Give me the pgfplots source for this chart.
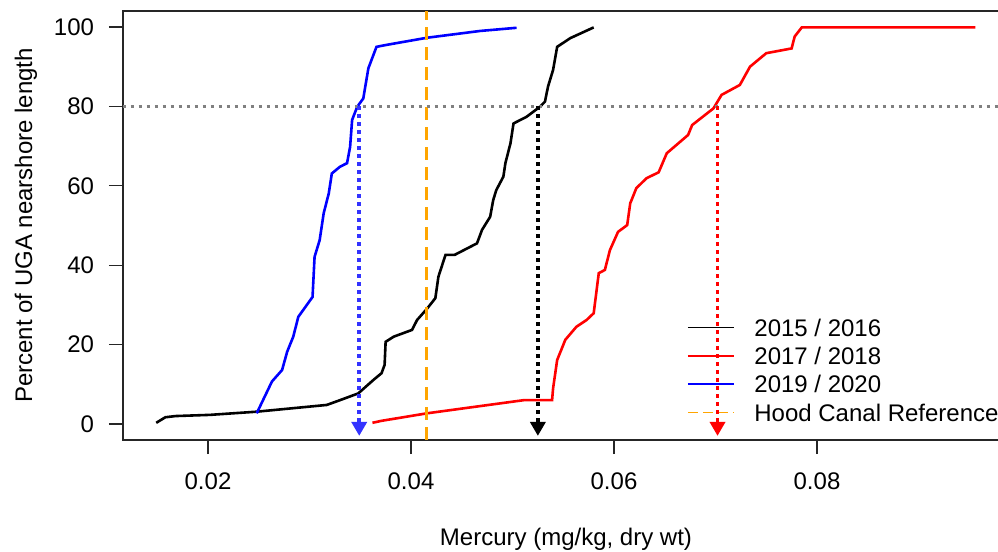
\documentclass[border=0pt]{standalone}
\usepackage{fontspec}
\setmainfont{Liberation Sans}
\usepackage{pgfplots}
\pgfplotsset{compat=1.18}
\usetikzlibrary{arrows.meta}
\definecolor{hcorange}{RGB}{255,165,0}
\definecolor{arrowblue}{RGB}{51,51,255}
\definecolor{dotgray}{RGB}{128,128,128}
\begin{document}
\begin{tikzpicture}
\useasboundingbox (0,0) rectangle (499bp,276bp);
\begin{axis}[
  at={(61.5bp,56bp)}, anchor=south west,
  scale only axis, width=443bp, height=214.5bp,
  xmin=0.011626, xmax=0.098916, ymin=-4.03, ymax=104.03,
  scaled x ticks=false, scaled y ticks=false,
  axis line style={line width=0.6bp, black!85},
  tick style={line width=0.6bp, black!85},
  tick align=outside, major tick length=7bp,
  xtick pos=bottom, ytick pos=left,
  xtick={0.02,0.04,0.06,0.08}, xticklabels={0.02,0.04,0.06,0.08},
  ytick={0,20,40,60,80,100}, yticklabels={0,20,40,60,80,100},
  tick label style={font=\fontsize{12bp}{14bp}\selectfont},
  label style={font=\fontsize{12bp}{14bp}\selectfont},
  xticklabel shift=6bp, yticklabel shift=4bp,
  xlabel={Mercury (mg/kg, dry wt)},
  xlabel style={at={(axis description cs:0.5,-0.2470)}, anchor=base},
  ylabel={Percent of UGA nearshore length},
  ylabel style={at={(axis description cs:-0.1027,0.5)}, anchor=base},
]
\addplot[black, line width=1.3bp] coordinates {
(0.0149,0.3) (0.0158,1.7) (0.0168,2.0) (0.0202,2.3) (0.0248,3.1) (0.0317,4.8)
(0.0330,6.0) (0.0348,7.7) (0.0363,11.1) (0.0371,12.8) (0.0374,14.9) (0.0375,20.7)
(0.0383,22.0) (0.0401,23.7) (0.0406,26.2) (0.0416,29.1) (0.0424,31.7) (0.0427,37.1)
(0.0434,42.6) (0.0443,42.6) (0.0465,45.5) (0.0470,48.9) (0.0478,52.2) (0.0481,56.4)
(0.0484,58.9) (0.0491,62.3) (0.0493,65.7) (0.0498,70.7) (0.0501,75.7) (0.0514,77.4)
(0.0527,79.9) (0.0532,81.2) (0.0535,85.0) (0.0540,89.2) (0.0544,95.0) (0.0557,97.2)
(0.0580,99.9)};
\addplot[red, line width=1.3bp] coordinates {
(0.0362,0.3) (0.0371,0.8) (0.0416,2.7) (0.0511,6.0) (0.0539,6.0) (0.0540,9.0)
(0.0544,16.1) (0.0552,21.2) (0.0563,24.5) (0.0573,26.2) (0.0580,27.9) (0.0585,38.0)
(0.0591,38.8) (0.0596,43.8) (0.0604,48.4) (0.0613,50.1) (0.0616,55.6) (0.0622,59.4)
(0.0632,61.9) (0.0644,63.4) (0.0652,68.2) (0.0673,72.8) (0.0677,75.3) (0.0698,79.5)
(0.0706,82.9) (0.0724,85.4) (0.0734,90.0) (0.0750,93.4) (0.0775,94.6) (0.0778,97.6)
(0.0785,99.9) (0.0956,99.9)};
\addplot[blue, line width=1.3bp] coordinates {
(0.0248,2.7) (0.0263,10.7) (0.0273,13.6) (0.0278,18.2) (0.0284,22.0) (0.0289,27.0)
(0.0296,29.5) (0.0303,32.0) (0.0305,42.1) (0.0310,46.3) (0.0314,53.1) (0.0319,58.1)
(0.0322,63.1) (0.0330,64.8) (0.0337,65.7) (0.0340,69.8) (0.0342,76.6) (0.0347,79.9)
(0.0353,82.0) (0.0358,89.6) (0.0366,95.0) (0.0376,95.5) (0.0416,97.3) (0.0468,99.0)
(0.0504,99.8)};
\addplot[hcorange, line width=1.4bp, dash pattern=on 6.5bp off 3.5bp] coordinates {
(0.04155,-4.03) (0.04155,104.03)};
\addplot[dotgray, line width=1.6bp, dash pattern=on 1.6bp off 2.4bp] coordinates {
(0.0116,80) (0.0990,80)};
% legend
\draw[black, line width=0.9bp] (axis description cs:0.6377,0.2622) -- (axis description cs:0.6896,0.2622);
\draw[red, line width=0.9bp] (axis description cs:0.6377,0.1963) -- (axis description cs:0.6896,0.1963);
\draw[blue, line width=0.9bp] (axis description cs:0.6377,0.1303) -- (axis description cs:0.6896,0.1303);
\draw[hcorange, line width=0.9bp, dash pattern=on 5bp off 2.5bp] (axis description cs:0.6377,0.0643) -- (axis description cs:0.6896,0.0643);
\node[anchor=base west, inner sep=0pt, yshift=-4.3bp, font=\fontsize{12bp}{14bp}\selectfont] at (axis description cs:0.7122,0.2622) {2015 / 2016};
\node[anchor=base west, inner sep=0pt, yshift=-4.3bp, font=\fontsize{12bp}{14bp}\selectfont] at (axis description cs:0.7122,0.1963) {2017 / 2018};
\node[anchor=base west, inner sep=0pt, yshift=-4.3bp, font=\fontsize{12bp}{14bp}\selectfont] at (axis description cs:0.7122,0.1303) {2019 / 2020};
\node[anchor=base west, inner sep=0pt, yshift=-4.3bp, font=\fontsize{12bp}{14bp}\selectfont] at (axis description cs:0.7122,0.0643) {Hood Canal Reference};
\addplot[arrowblue, line width=1.8bp, dash pattern=on 1.8bp off 2.2bp, -{Triangle[width=7.5bp,length=7bp]}] coordinates {
(0.0349,80) (0.0349,-3.0)};
\addplot[black, line width=1.8bp, dash pattern=on 1.8bp off 2.2bp, -{Triangle[width=7.5bp,length=7bp]}] coordinates {
(0.0525,80) (0.0525,-3.0)};
\addplot[red, line width=1.8bp, dash pattern=on 1.8bp off 2.2bp, -{Triangle[width=7.5bp,length=7bp]}] coordinates {
(0.0702,80) (0.0702,-3.0)};
\end{axis}
\end{tikzpicture}
\end{document}
